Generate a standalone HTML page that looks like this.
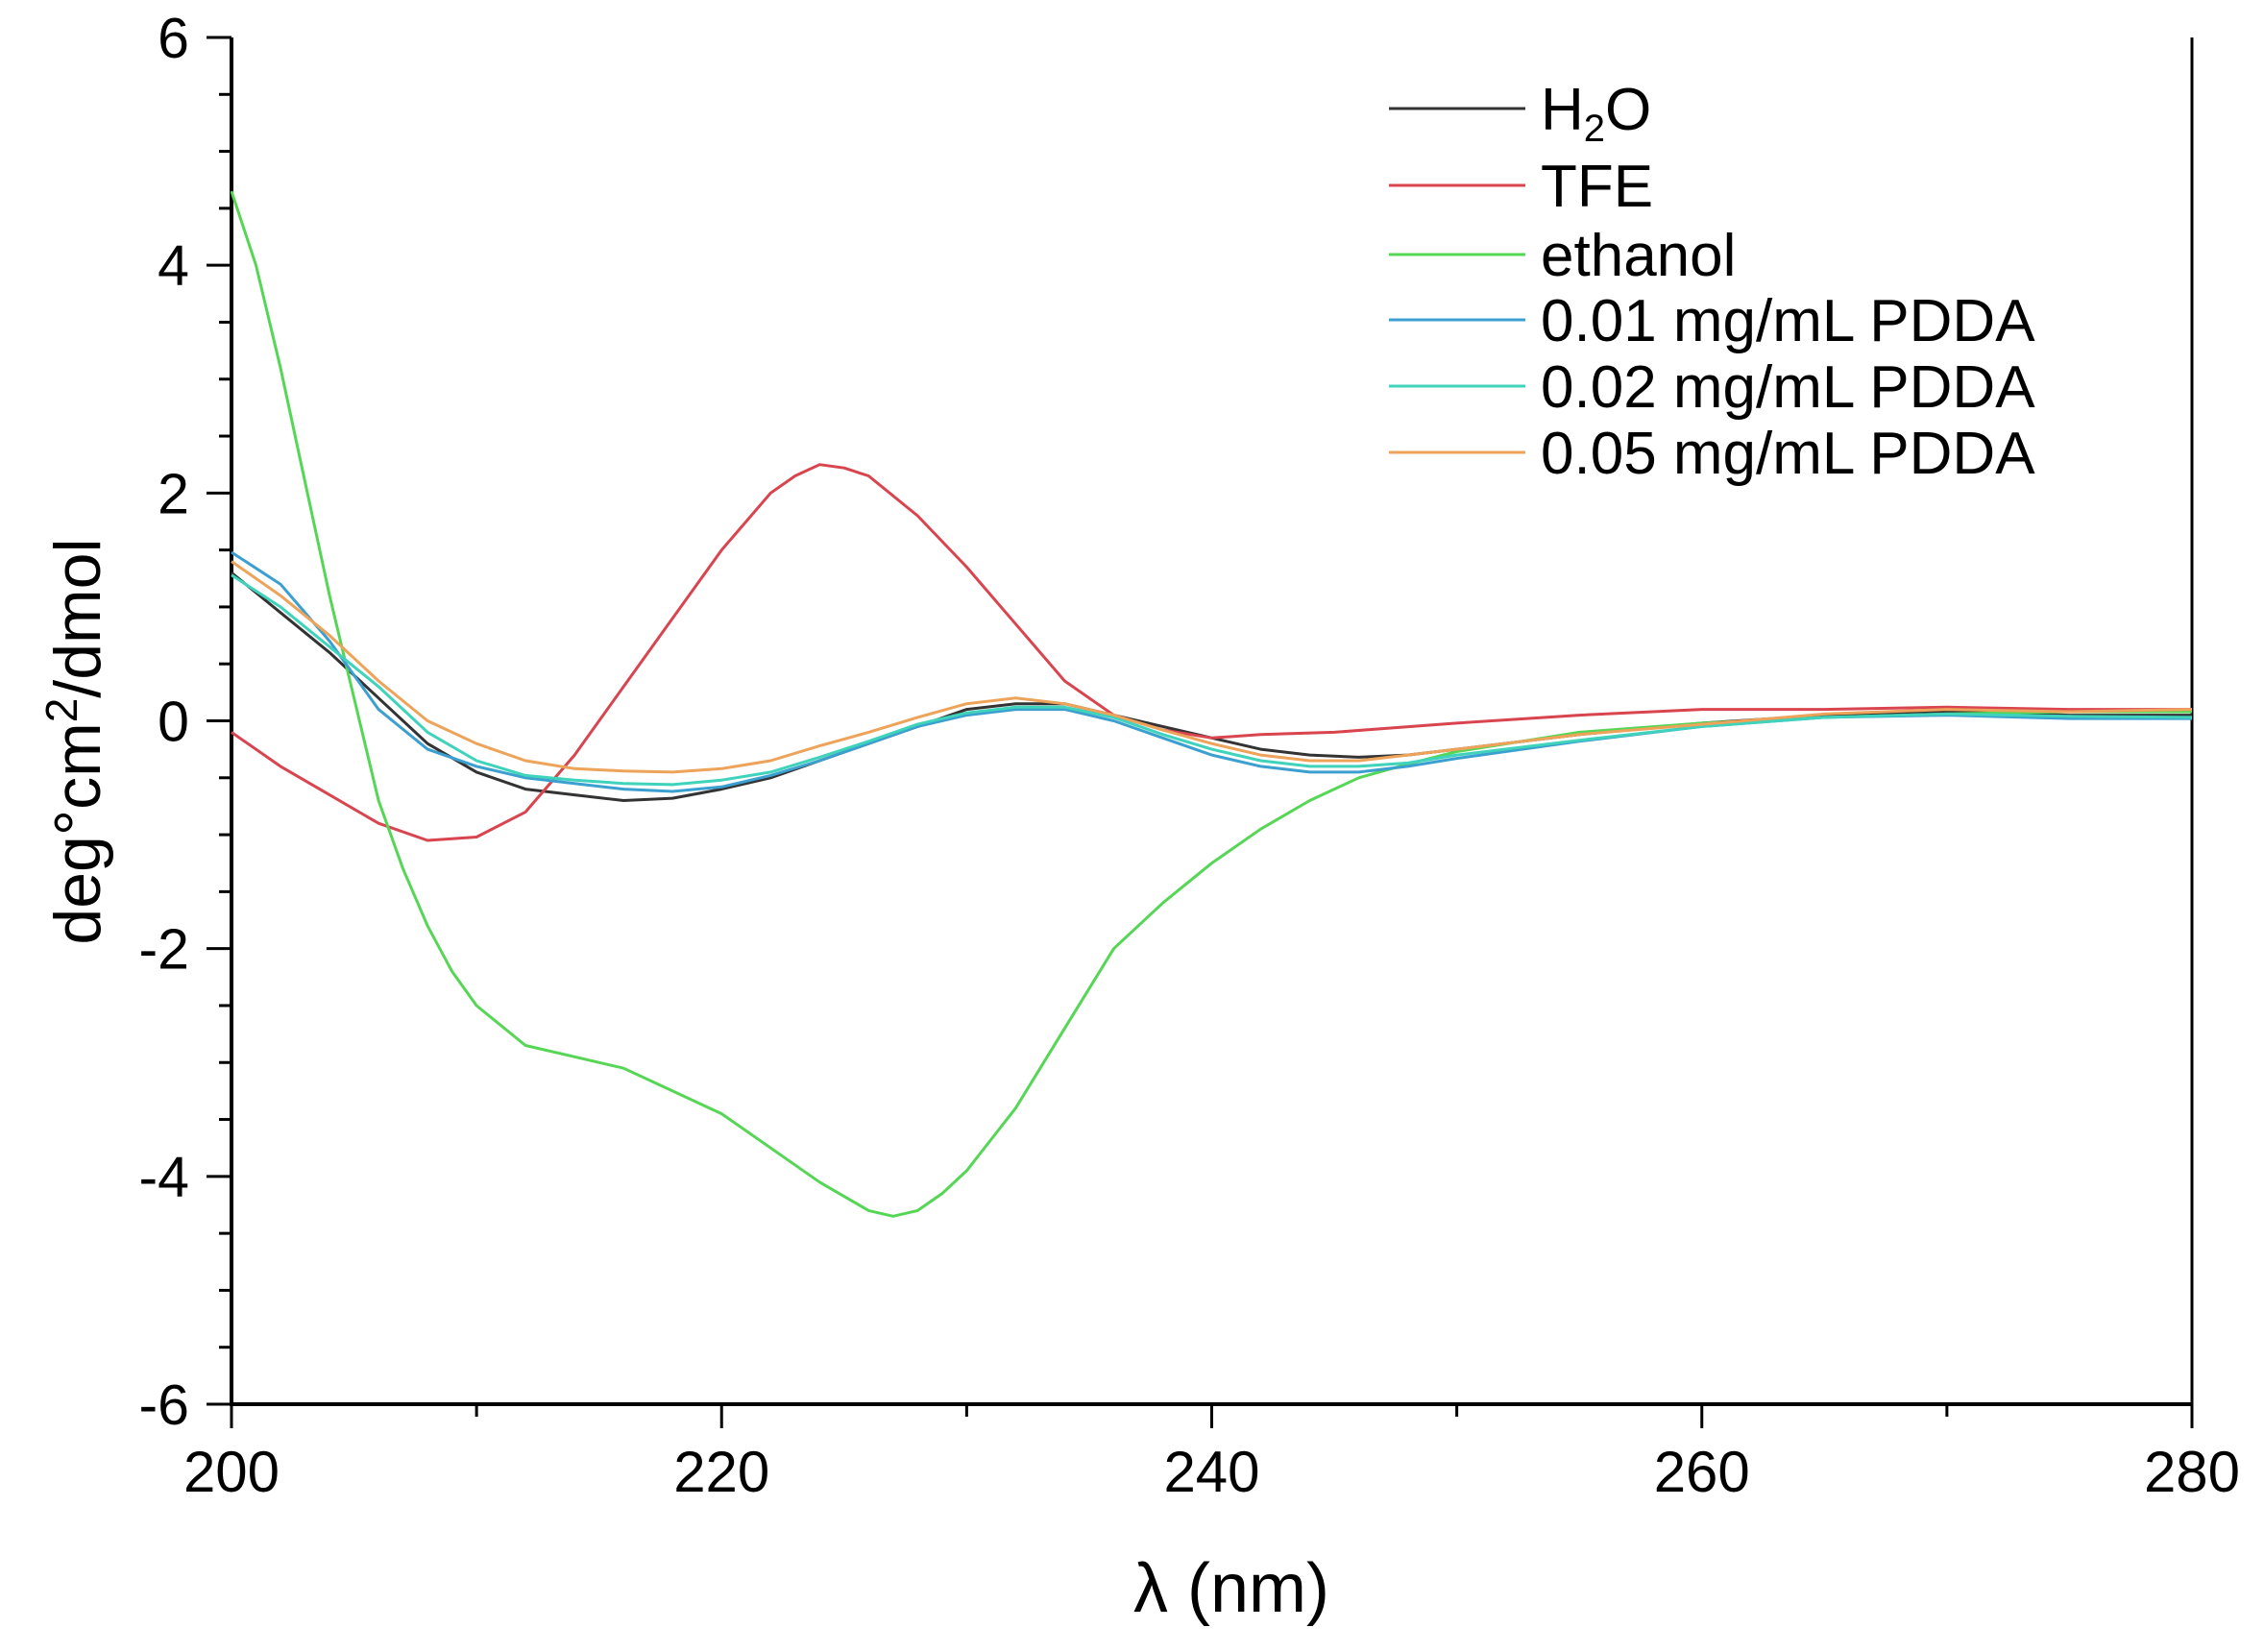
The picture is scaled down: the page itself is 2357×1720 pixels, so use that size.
<!DOCTYPE html>
<html><head><meta charset="utf-8"><style>
html,body{margin:0;padding:0;background:#fff;}
svg{display:block;font-family:"Liberation Sans",Arial,sans-serif;}
</style></head><body>
<svg id="chart" width="2357" height="1720" viewBox="0 0 2357 1720" xmlns="http://www.w3.org/2000/svg">
<g id="axes"></g>
<g id="series"></g>
<g id="legend"></g>
<text x="0" y="0" transform="translate(104,772) rotate(-90)" text-anchor="middle" font-size="68">deg°cm<tspan dy="-24" font-size="46">2</tspan><tspan dy="24">/dmol</tspan></text>
<text x="1282" y="1678" text-anchor="middle" font-size="72">λ (nm)</text>
</svg>
<script>
const xTicks=[200,220,240,260,280];
const yTicks=[-6,-4,-2,0,2,4,6];
const seriesNames=["H2O","TFE","ethanol","0.01 mg/mL PDDA","0.02 mg/mL PDDA","0.05 mg/mL PDDA"];
const seriesColors=["#333333","#d9454f","#55d655","#3b9fd0","#3fd3bc","#eda35a"];
const xH2O=[200,202,204,206,208,210,212,214,216,218,220,222,224,226,228,230,232,234,236,238,240,242,244,246,248,250,255,260,265,270,275,280];
const yH2O=[1.3,0.95,0.6,0.2,-0.2,-0.45,-0.6,-0.65,-0.7,-0.68,-0.6,-0.5,-0.35,-0.2,-0.05,0.1,0.15,0.15,0.05,-0.05,-0.15,-0.25,-0.3,-0.32,-0.3,-0.25,-0.12,-0.02,0.05,0.08,0.05,0.05];
const xTFE=[200,202,204,206,208,210,212,214,216,218,220,222,223,224,225,226,228,230,232,234,236,238,240,242,245,250,255,260,265,270,275,280];
const yTFE=[-0.1,-0.4,-0.65,-0.9,-1.05,-1.02,-0.8,-0.3,0.3,0.9,1.5,2.0,2.15,2.25,2.22,2.15,1.8,1.35,0.85,0.35,0.05,-0.08,-0.15,-0.12,-0.1,-0.02,0.05,0.1,0.1,0.12,0.1,0.1];
const xEth=[200,201,202,203,204,205,206,207,208,209,210,212,214,216,218,220,222,224,226,227,228,229,230,232,234,236,238,240,242,244,246,248,250,255,260,265,270,275,280];
const yEth=[4.65,4.0,3.1,2.1,1.1,0.2,-0.7,-1.3,-1.8,-2.2,-2.5,-2.85,-2.95,-3.05,-3.25,-3.45,-3.75,-4.05,-4.3,-4.35,-4.3,-4.15,-3.95,-3.4,-2.7,-2.0,-1.6,-1.25,-0.95,-0.7,-0.5,-0.38,-0.27,-0.1,-0.02,0.03,0.06,0.08,0.08];
const xP=[200,202,204,206,208,210,212,214,216,218,220,222,224,226,228,230,232,234,236,238,240,242,244,246,248,250,255,260,265,270,275,280];
const yP01=[1.48,1.2,0.7,0.1,-0.25,-0.4,-0.5,-0.55,-0.6,-0.62,-0.58,-0.48,-0.35,-0.2,-0.05,0.05,0.1,0.1,0.0,-0.15,-0.3,-0.4,-0.45,-0.45,-0.4,-0.33,-0.18,-0.05,0.03,0.05,0.02,0.02];
const yP02=[1.28,1.0,0.65,0.3,-0.1,-0.35,-0.48,-0.52,-0.55,-0.56,-0.52,-0.45,-0.32,-0.18,-0.03,0.07,0.12,0.12,0.03,-0.12,-0.25,-0.35,-0.4,-0.4,-0.37,-0.3,-0.17,-0.05,0.03,0.06,0.04,0.03];
const yP05=[1.4,1.1,0.75,0.35,0.0,-0.2,-0.35,-0.42,-0.44,-0.45,-0.42,-0.35,-0.22,-0.1,0.03,0.15,0.2,0.15,0.05,-0.08,-0.2,-0.3,-0.35,-0.35,-0.3,-0.25,-0.12,-0.03,0.06,0.1,0.08,0.1];
const seriesX=[xH2O,xTFE,xEth,xP,xP,xP];
const seriesY=[yH2O,yTFE,yEth,yP01,yP02,yP05];

const L=241,R=2282,T=39,B=1462;
const sx=v=>L+(v-200)/80*(R-L);
const sy=v=>B-(v+6)/12*(B-T);
const NS="http://www.w3.org/2000/svg";
function mk(tag,attrs,parent){const e=document.createElementNS(NS,tag);for(const k in attrs)e.setAttribute(k,attrs[k]);parent.appendChild(e);return e;}
const axes=document.getElementById('axes');
let e;
e=mk('line',{x1:L,y1:T,x2:L,y2:B+1,stroke:'#000','stroke-width':4},axes);


e=mk('line',{x1:L-2,y1:B,x2:R,y2:B,stroke:'#000','stroke-width':4},axes);


e=mk('line',{x1:R,y1:T,x2:R,y2:B,stroke:'#000','stroke-width':3},axes);


for(let v=-6;v<=6.001;v+=0.5){const maj=Math.abs(v-Math.round(v/2)*2)<1e-6;
 e=mk('line',{x1:L-(maj?26:13),y1:sy(v),x2:L,y2:sy(v),stroke:'#000','stroke-width':3},axes);
 
 }
for(let v=200;v<=280;v+=10){const maj=v%20===0;
 e=mk('line',{x1:sx(v),y1:B,x2:sx(v),y2:B+(maj?25:13),stroke:'#000','stroke-width':3},axes);
 
 }
yTicks.forEach(v=>{e=mk('text',{x:L-44,y:sy(v)+21,'text-anchor':'end','font-size':59},axes);e.textContent=String(v);
 
 });
xTicks.forEach(v=>{e=mk('text',{x:sx(v),y:1553,'text-anchor':'middle','font-size':60},axes);e.textContent=String(v);
 
 });
const sg=document.getElementById('series');
seriesNames.forEach((n,i)=>{const xs=seriesX[i],ys=seriesY[i];
 const d=xs.map((x,j)=>(j?'L':'M')+sx(x).toFixed(1)+' '+sy(ys[j]).toFixed(1)).join(' ');
 e=mk('path',{d:d,fill:'none',stroke:seriesColors[i],'stroke-width':3,'stroke-linejoin':'round'},sg);
 
 });
const lg=document.getElementById('legend');
const rowsY=[113,193,265,333,402,471];
seriesNames.forEach((n,i)=>{
 e=mk('line',{x1:1446,y1:rowsY[i],x2:1588,y2:rowsY[i],stroke:seriesColors[i],'stroke-width':3},lg);
 
 
 e=mk('text',{x:1604,y:rowsY[i]+22,'font-size':62},lg);
 if(i===0){e.innerHTML='H<tspan font-size="40" dy="12">2</tspan><tspan dy="-12">O</tspan>';}else{e.textContent=n;}
 
 });
</script>
</body></html>
